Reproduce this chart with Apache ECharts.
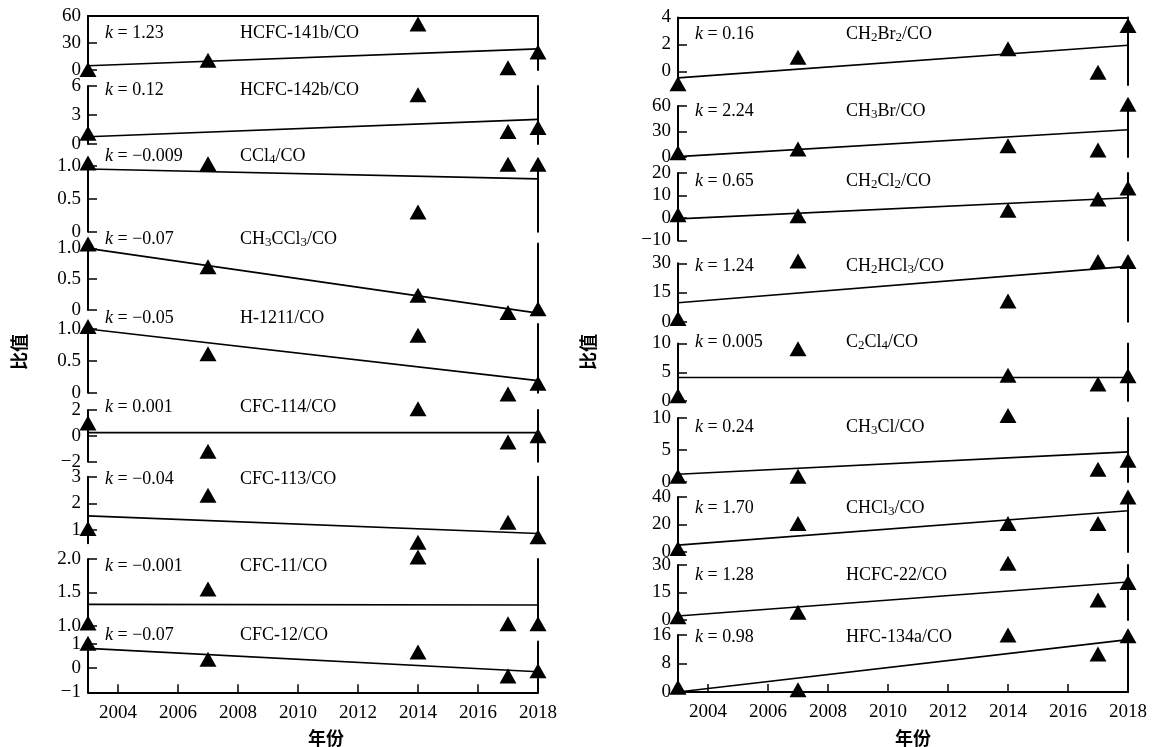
<!DOCTYPE html>
<html>
<head>
<meta charset="utf-8">
<script src="https://cdn.jsdelivr.net/npm/echarts@6/dist/echarts.min.js"></script>
<style>
  html, body { margin: 0; padding: 0; background: #fff; }
  #chart { width: 1153px; height: 747px; }
</style>
</head>
<body>
<div id="chart"></div>
<script>
// sampling years and the ends of each fitted line
var years = [2003, 2007, 2014, 2017, 2018];
var fitYears = [2003, 2018];
var xTicks = [2004, 2006, 2008, 2010, 2012, 2014, 2016, 2018];

// left column (ratio values at each year, null = not shown)
var hcfc141b = [0.5, 10.8, 51, 2.6, 20];
var hcfc142b = [1.1, null, 5.1, 1.3, 1.7];
var ccl4 = [1.04, 1.03, 0.30, 1.02, 1.02];
var ch3ccl3 = [1.07, 0.70, 0.24, -0.04, 0.02];
var h1211 = [1.04, 0.61, 0.90, -0.02, 0.15];
var cfc114 = [1.0, -1.2, 2.1, -0.47, 0];
var cfc113 = [1.06, 2.3, 0.54, 1.29, 0.75];
var cfc11 = [1.04, 1.55, 2.03, 1.03, 1.03];
var cfc12 = [1.03, 0.37, 0.67, -0.32, -0.11];

// right column
var ch2br2 = [-0.9, 1.06, 1.68, -0.05, 3.4];
var ch3br = [5, 9.4, 13.3, 8.2, 62];
var ch2cl2 = [1.5, 1.0, 3.4, 8.4, 13.3];
var ch2hcl3 = [1.7, 31.2, 10.6, 30.9, 30.9];
var c2cl4 = [0.9, 9.1, 4.5, 2.96, 4.4];
var ch3cl = [0.9, 0.9, 10.4, 2.0, 3.4];
var chcl3 = [2.5, 20.8, 20.8, 20.8, 40];
var hcfc22 = [1.8, 4.2, 31, 10.9, 20.4];
var hfc134a = [1.3, 0.6, 16, 10.7, 15.8];

// fitted line values at 2003 and 2018
var leftFits = [[4.8, 23.5], [0.75, 2.55], [0.95, 0.80], [1.0, -0.05], [1.0, 0.19],
                [0.25, 0.25], [1.53, 0.87], [1.32, 1.31], [0.82, -0.15]];
var rightFits = [[-0.47, 1.95], [0.4, 32], [-0.4, 9.0], [9.7, 28.4], [4.1, 4.1],
                 [1.2, 4.7], [5, 30], [2.2, 20.7], [0, 14.7]];

var leftNames = ['HCFC-141b/CO', 'HCFC-142b/CO', 'CCl_4/CO', 'CH_3CCl_3/CO', 'H-1211/CO',
                 'CFC-114/CO', 'CFC-113/CO', 'CFC-11/CO', 'CFC-12/CO'];
var rightNames = ['CH_2Br_2/CO', 'CH_3Br/CO', 'CH_2Cl_2/CO', 'CH_2HCl_3/CO', 'C_2Cl_4/CO',
                  'CH_3Cl/CO', 'CHCl_3/CO', 'HCFC-22/CO', 'HFC-134a/CO'];
var leftK = ['1.23', '0.12', '\u22120.009', '\u22120.07', '\u22120.05', '0.001', '\u22120.04', '\u22120.001', '\u22120.07'];
var rightK = ['0.16', '2.24', '0.65', '1.24', '0.005', '0.24', '1.70', '1.28', '0.98'];

var leftPts = [hcfc141b, hcfc142b, ccl4, ch3ccl3, h1211, cfc114, cfc113, cfc11, cfc12];
var rightPts = [ch2br2, ch3br, ch2cl2, ch2hcl3, c2cl4, ch3cl, chcl3, hcfc22, hfc134a];

// y ticks and their labels
var leftTicks = [[0, 30, 60], [0, 3, 6], [0, 0.5, 1], [0, 0.5, 1], [0, 0.5, 1],
                 [-2, 0, 2], [1, 2, 3], [1, 1.5, 2], [-1, 0, 1]];
var leftTickLabels = [['0', '30', '60'], ['0', '3', '6'], ['0', '0.5', '1.0'], ['0', '0.5', '1.0'],
                      ['0', '0.5', '1.0'], ['\u22122', '0', '2'], ['1', '2', '3'],
                      ['1.0', '1.5', '2.0'], ['\u22121', '0', '1']];
var rightTicks = [[0, 2, 4], [0, 30, 60], [-10, 0, 10, 20], [0, 15, 30], [0, 5, 10],
                  [0, 5, 10], [0, 20, 40], [0, 15, 30], [0, 8, 16]];
var rightTickLabels = [['0', '2', '4'], ['0', '30', '60'], ['\u221210', '0', '10', '20'],
                       ['0', '15', '30'], ['0', '5', '10'], ['0', '5', '10'], ['0', '20', '40'],
                       ['0', '15', '30'], ['0', '8', '16']];
var leftRange = [[0, 60], [0, 6], [0, 1.08], [0, 1.08], [0, 1.08], [-2, 2], [0.5, 3], [1, 2], [-1, 1.1]];
var rightRange = [[-1, 4], [0, 60], [-10, 20], [0, 30], [0, 10], [0, 10], [0, 40], [0, 30], [0, 16]];

// layout: pixel top/bottom of each panel and label rows
var colLeft = [88, 678];
var colWidth = 450;
var leftBox = [[16, 70], [86, 144], [160.4, 231.7], [243.4, 310], [323.9, 392.7],
               [410, 461.7], [476.7, 543.3], [559, 625.7], [641.6, 692.3]];
var rightBox = [[17.5, 85], [106, 157], [173, 240.5], [263.3, 321.7], [343.5, 401],
                [418, 482], [497, 552], [565, 620], [635, 692]];
var leftTextY = [33, 90, 156, 239, 318, 407, 479, 566, 635];
var rightTextY = [34, 111, 181, 266, 342, 427, 508, 575, 637];
var kX = [105, 695];
var nameX = [240, 846];

var serif = '"Liberation Serif", "Times New Roman", serif';
var cjk = '"Noto Sans CJK SC", sans-serif';

var grids = [], xAxes = [], yAxes = [], series = [], texts = [];

var richStyle = {
  n: { fontSize: 18, fontFamily: serif, lineHeight: 21, color: '#000' },
  i: { fontSize: 18, fontFamily: serif, fontStyle: 'italic', lineHeight: 21, color: '#000' },
  s: { fontSize: 13, fontFamily: serif, lineHeight: 13, verticalAlign: 'bottom', color: '#000' }
};

function toRich(name) {
  var out = '';
  var parts = name.split(/_(\d)/);
  for (var p = 0; p < parts.length; p++) {
    if (!parts[p]) continue;
    out += (p % 2 === 1) ? '{s|' + parts[p] + '}' : '{n|' + parts[p] + '}';
  }
  return out;
}

var cols = [
  { names: leftNames, k: leftK, pts: leftPts, fits: leftFits, ticks: leftTicks, labels: leftTickLabels, range: leftRange, box: leftBox, ty: leftTextY },
  { names: rightNames, k: rightK, pts: rightPts, fits: rightFits, ticks: rightTicks, labels: rightTickLabels, range: rightRange, box: rightBox, ty: rightTextY }
];

cols.forEach(function (col, c) {
  for (var i = 0; i < 9; i++) {
    var g = c * 9 + i;
    var box = col.box[i];
    grids.push({ left: colLeft[c], width: colWidth, top: box[0], height: box[1] - box[0] });

    var xa = {
      gridIndex: g, type: 'value', min: 2003, max: 2018,
      splitLine: { show: false },
      axisLine: { show: true, onZero: false, lineStyle: { color: '#000', width: 2 } },
      axisTick: { show: false },
      axisLabel: { show: false }
    };
    if (i === 0) {
      xa.position = 'top';
    } else if (i === 8) {
      xa.position = 'bottom';
      xa.axisTick = { show: true, inside: true, length: 8, customValues: xTicks, lineStyle: { color: '#000', width: 1.5 } };
      xa.axisLabel = {
        show: true, customValues: xTicks, fontSize: 19, fontFamily: serif, color: '#000', margin: 11,
        formatter: function (v) { return String(v); }
      };
    } else {
      xa.show = false;
    }
    xAxes.push(xa);

    (function (ticks, labels) {
      yAxes.push({
        gridIndex: g, type: 'value', position: 'left',
        min: col.range[i][0], max: col.range[i][1],
        splitLine: { show: false },
        axisLine: { show: true, onZero: false, lineStyle: { color: '#000', width: 2 } },
        axisTick: { show: true, inside: true, length: 9, customValues: ticks, lineStyle: { color: '#000', width: 1.5 } },
        axisLabel: {
          customValues: ticks, fontSize: 19, fontFamily: serif, color: '#000', margin: 7,
          formatter: function (v) {
            var idx = ticks.indexOf(v);
            return idx >= 0 ? labels[idx] : '';
          }
        }
      });
    })(col.ticks[i], col.labels[i]);
    yAxes.push({
      gridIndex: g, type: 'value', position: 'right',
      min: col.range[i][0], max: col.range[i][1],
      splitLine: { show: false },
      axisLine: { show: true, onZero: false, lineStyle: { color: '#000', width: 2 } },
      axisTick: { show: false },
      axisLabel: { show: false }
    });

    var pts = col.pts[i];
    var scatterData = [];
    years.forEach(function (yr, j) {
      if (pts[j] !== null) scatterData.push([yr, pts[j]]);
    });
    series.push({
      type: 'line', xAxisIndex: g, yAxisIndex: 2 * g,
      data: fitYears.map(function (yr, j) { return [yr, col.fits[i][j]]; }),
      symbol: 'none', clip: false, silent: true,
      lineStyle: { color: '#000', width: 1.6 }, z: 3
    });
    series.push({
      type: 'scatter', xAxisIndex: g, yAxisIndex: 2 * g,
      data: scatterData, symbol: 'triangle', symbolSize: [17, 15],
      clip: false, itemStyle: { color: '#000', opacity: 1 }, z: 5
    });

    texts.push({
      type: 'text', x: kX[c], y: col.ty[i],
      style: { text: '{i|k}{n| = ' + col.k[i] + '}', rich: richStyle, verticalAlign: 'middle', align: 'left' }
    });
    texts.push({
      type: 'text', x: nameX[c], y: col.ty[i],
      style: { text: toRich(col.names[i]), rich: richStyle, verticalAlign: 'middle', align: 'left' }
    });
  }
});

// axis titles
var titleStyle = { fontSize: 18, fontWeight: 'bold', fontFamily: cjk, fill: '#000', align: 'center', verticalAlign: 'middle' };
texts.push({ type: 'text', x: 19, y: 352, rotation: Math.PI / 2, style: Object.assign({ text: '比值' }, titleStyle) });
texts.push({ type: 'text', x: 588, y: 352, rotation: Math.PI / 2, style: Object.assign({ text: '比值' }, titleStyle) });
texts.push({ type: 'text', x: 326, y: 738, style: Object.assign({ text: '年份' }, titleStyle) });
texts.push({ type: 'text', x: 913, y: 738, style: Object.assign({ text: '年份' }, titleStyle) });

var myChart = echarts.init(document.getElementById('chart'));
myChart.setOption({
  animation: false,
  backgroundColor: '#fff',
  grid: grids,
  xAxis: xAxes,
  yAxis: yAxes,
  series: series,
  graphic: texts
});
</script>
</body>
</html>
